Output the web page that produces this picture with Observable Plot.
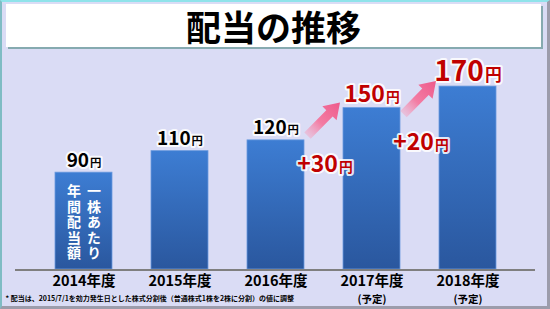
<!DOCTYPE html>
<html><head><meta charset="utf-8">
<script src="https://cdn.jsdelivr.net/npm/d3@7"></script>
<script src="https://cdn.jsdelivr.net/npm/@observablehq/plot@0.6"></script>
<style>
html,body{margin:0;padding:0;background:#dadcf5;}
#wrap{position:relative;width:550px;height:309px;overflow:hidden;background:#dadcf5;font-family:"Noto Sans CJK JP",sans-serif;}
#frame{position:absolute;left:0;top:0;width:550px;height:309px;box-sizing:border-box;border-top:2px solid #8fe3ea;border-left:2px solid #7fbcc4;border-right:3px solid #9c9cab;border-bottom:3px solid #9c9cab;}
#title{position:absolute;left:6px;top:4px;width:535px;height:43px;background:#fff;box-shadow:2px 2px 0 #86aab0;display:flex;align-items:center;justify-content:center;font-size:35px;font-weight:700;color:#000;line-height:1;}
#chart{position:absolute;left:0;top:0;}
</style></head><body>
<div id="wrap"><div id="frame"></div><div id="title">配当の推移</div><div id="chart"></div></div>
<script>
const years = ["2014年度","2015年度","2016年度","2017年度","2018年度"];
const dividends = [90, 110, 120, 150, 170];
const forecast = [false, false, false, true, true];
const tickLabels = ["2014年度","2015年度","2016年度","2017年度","2018年度"];
const tickNotes = ["", "", "", "(予定)", "(予定)"];
const barNoteLeft = "年間配当額";
const barNoteRight = "一株あたり";
const unit = "円";
const footnote = "* 配当は、2015/7/1を効力発生日とした株式分割後（普通株式1株を2株に分割）の値に調整";

const rows = years.map((year, i) => ({year, value: dividends[i], forecast: forecast[i], tick: tickLabels[i], note: tickNotes[i]}));
const deltas = rows.slice(1).map((r, i) => ({from: rows[i].year, to: r.year, fromValue: rows[i].value, toValue: r.value, forecast: r.forecast, label: "+" + (r.value - rows[i].value)})).filter(d => d.forecast);

const font = "'Noto Sans CJK JP', sans-serif";
const defs = () => {
  const d = d3.create("svg:defs");
  const g = d.append("linearGradient").attr("id", "barGrad").attr("x1", 0).attr("y1", 0).attr("x2", 0).attr("y2", 1);
  g.append("stop").attr("offset", "0%").attr("stop-color", "#3d7dd3");
  g.append("stop").attr("offset", "100%").attr("stop-color", "#2a579e");
  const a = d.append("linearGradient").attr("id", "arrowGrad").attr("x1", 0).attr("y1", 1).attr("x2", 1).attr("y2", 0);
  a.append("stop").attr("offset", "0%").attr("stop-color", "#f7a9c4").attr("stop-opacity", 0.3);
  a.append("stop").attr("offset", "45%").attr("stop-color", "#f37ca3");
  a.append("stop").attr("offset", "100%").attr("stop-color", "#ee5a8b");
  return d.node();
};

const textBase = {fontWeight: "bold", stroke: "white", strokeWidth: 4, strokeOpacity: 0.85, lineAnchor: "bottom"};
const noteBase = {x: "year", y: "value", dy: 11, textAnchor: "start", lineAnchor: "bottom", fill: "white", fontSize: 14, fontWeight: "bold"};

const plot = Plot.plot({
  width: 550, height: 309,
  marginTop: 0, marginBottom: 40, marginLeft: 15, marginRight: 15,
  style: {background: "transparent", fontFamily: font, overflow: "visible"},
  x: {domain: years, padding: 0.41, axis: null},
  y: {domain: [0, 250], axis: null},
  marks: [
    defs,
    Plot.barY(rows, {x: "year", y: "value", fill: "url(#barGrad)", stroke: "#6a9ade", strokeWidth: 0.8}),
    Plot.ruleY([0], {stroke: "#7f7f7f", strokeWidth: 2, dy: 0.5}),
    Plot.text(rows.filter(d => !d.forecast), {...textBase, x: "year", y: "value", text: d => String(d.value), dy: -6, fontSize: 19, fill: "#000", ariaDescription: "val-actual"}),
    Plot.text(rows.filter(d => d.forecast), {...textBase, x: "year", y: "value", text: d => String(d.value), dy: -6, fontSize: (d, i) => i === 0 ? 23 : 28, fill: "#c00000", ariaDescription: "val-forecast"}),
    Plot.text(deltas, {...textBase, x: "to", y: "toValue", text: "label", dx: -47, dy: 63.5, fontSize: 23, fill: "#c00000", ariaDescription: "val-delta"}),
    Plot.text(rows.slice(0, 1), {...noteBase, text: () => barNoteLeft, dx: -10, ariaDescription: "vnote"}),
    Plot.text(rows.slice(0, 1), {...noteBase, text: () => barNoteRight, dx: 10, ariaDescription: "vnote"}),
    Plot.text(rows, {x: "year", text: "tick", frameAnchor: "bottom", dy: 16.5, lineAnchor: "bottom", fontSize: 14.5, fontWeight: "bold", fill: "#000"}),
    Plot.text(rows.filter(d => d.note), {x: "year", text: "note", frameAnchor: "bottom", dy: 33, lineAnchor: "bottom", fontSize: 10.5, fontWeight: "bold", fill: "#000"}),
    Plot.text([footnote], {text: d => d, frameAnchor: "bottom-left", textAnchor: "start", dx: -10, dy: 31, lineAnchor: "bottom", fontSize: 7, fontWeight: "bold", fill: "#000"})
  ]
});

// unit suffix as smaller tspan
d3.select(plot).selectAll('g[aria-description^="val-"] text').each(function() {
  const t = d3.select(this);
  const num = t.text();
  t.text(null);
  t.append("tspan").text(num);
  t.append("tspan").attr("font-size", "0.6em").attr("dx", "0.08em").text(unit);
});

// vertical writing for the in-bar note
d3.select(plot).selectAll('g[aria-description="vnote"] text')
  .style("writing-mode", "vertical-rl")
  .attr("letter-spacing", "1.6px");

// arrows between bars using the plot's scales
const xs = plot.scale("x"), ys = plot.scale("y");
const cx = v => xs.apply(v) + xs.bandwidth / 2;
const arrowLayer = d3.select(plot).append("g").attr("aria-label", "arrows");
deltas.forEach(d => {
  const x0 = cx(d.to) - 64, y0 = ys.apply(d.toValue) + 28;
  const x1 = cx(d.to) - 31.5, y1 = ys.apply(d.toValue) - 5;
  const L = Math.hypot(x1 - x0, y1 - y0);
  const ux = (x1 - x0) / L, uy = (y1 - y0) / L, nx = -uy, ny = ux;
  const hl = 15, hw = 10, sw = 4.5;
  const bx = x1 - ux * hl, by = y1 - uy * hl;
  const pts = [
    [x0 + nx * sw, y0 + ny * sw], [bx + nx * sw, by + ny * sw], [bx + nx * hw, by + ny * hw],
    [x1, y1], [bx - nx * hw, by - ny * hw], [bx - nx * sw, by - ny * sw], [x0 - nx * sw, y0 - ny * sw]
  ];
  arrowLayer.append("path").attr("d", "M" + pts.map(p => p.join(",")).join("L") + "Z").attr("fill", "url(#arrowGrad)");
});

document.getElementById("chart").appendChild(plot);
</script>
</body></html>
